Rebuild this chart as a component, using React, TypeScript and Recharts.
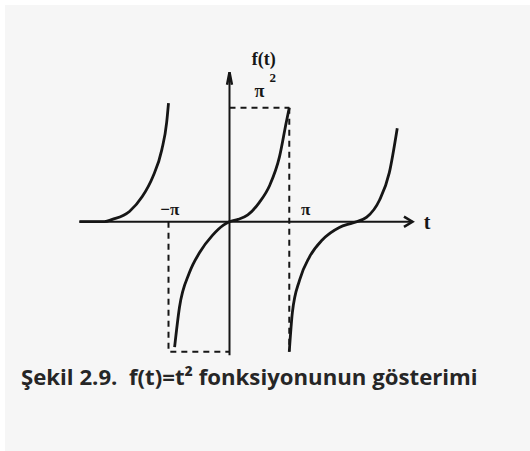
import { LineChart, Line, XAxis, YAxis, ReferenceDot } from 'recharts';

// t in units of π, f(t) in units of π²
const leftPiece = [
  { t: -2.46, v: 0 }, { t: -2.05, v: 0 }, { t: -1.92, v: 0.02 }, { t: -1.64, v: 0.09 },
  { t: -1.43, v: 0.22 }, { t: -1.26, v: 0.39 }, { t: -1.11, v: 0.63 }, { t: -1.03, v: 0.87 },
  { t: -1.0, v: 1.04 },
];
const centerPiece = [
  { t: -0.9, v: -1.1 }, { t: -0.82, v: -0.75 }, { t: -0.66, v: -0.45 }, { t: -0.49, v: -0.27 },
  { t: -0.28, v: -0.12 }, { t: -0.1, v: -0.03 }, { t: 0, v: 0 }, { t: 0.14, v: 0.02 },
  { t: 0.3, v: 0.06 }, { t: 0.49, v: 0.17 }, { t: 0.66, v: 0.32 }, { t: 0.82, v: 0.57 },
  { t: 0.93, v: 0.87 }, { t: 0.98, v: 1.0 },
];
const rightPiece = [
  { t: 0.98, v: -1.14 }, { t: 1.03, v: -0.8 }, { t: 1.15, v: -0.51 }, { t: 1.31, v: -0.31 },
  { t: 1.52, v: -0.16 }, { t: 1.8, v: -0.05 }, { t: 2.02, v: -0.01 }, { t: 2.25, v: 0.04 },
  { t: 2.46, v: 0.19 }, { t: 2.62, v: 0.43 }, { t: 2.75, v: 0.82 },
];

const xAxisLine = [{ t: -2.46, v: 0 }, { t: 3.0, v: 0 }];
const xArrow = [{ t: 2.86, v: 0.045 }, { t: 3.0, v: 0 }, { t: 2.86, v: -0.045 }];
const yAxisLine = [{ t: 0, v: -1.17 }, { t: 0, v: 1.31 }];
const yArrow = [{ t: -0.04, v: 1.2 }, { t: 0, v: 1.31 }, { t: 0.04, v: 1.2 }];

const dashTop = [{ t: 0, v: 1.0 }, { t: 0.98, v: 1.0 }];
const dashRight = [{ t: 0.98, v: 1.0 }, { t: 0.98, v: -1.14 }];
const dashLeft = [{ t: -1.0, v: 0 }, { t: -1.0, v: -1.13 }];
const dashBottom = [{ t: -0.97, v: -1.14 }, { t: 0, v: -1.14 }];

const labels = [
  { t: 0.56, v: 1.41, text: 'f(t)', size: 18 },
  { t: 3.24, v: -0.02, text: 't', size: 20 },
  { t: -0.98, v: 0.09, text: '−π', size: 17 },
  { t: 1.25, v: 0.09, text: 'π', size: 17 },
  { t: 0.49, v: 1.13, text: 'π', size: 18 },
  { t: 0.71, v: 1.25, text: '2', size: 13 },
];

const ink = '#161616';

function TextMark(props: any) {
  const { cx, cy, text, size } = props;
  return (
    <text x={cx} y={cy} textAnchor="middle" dominantBaseline="middle"
      style={{ fontFamily: "'Liberation Serif', 'DejaVu Serif', serif", fontWeight: 700, fontSize: size }}
      fill={ink}>
      {text}
    </text>
  );
}

export default function App() {
  return (
    <div style={{ position: 'fixed', left: 0, top: 0, width: 530, height: 451, background: '#f6f6f6',
      borderTop: '5px solid #fff', borderLeft: '5px solid #fff', boxSizing: 'border-box' }}>
      <div style={{ position: 'absolute', left: -5, top: -5 }}>
        <LineChart width={530} height={451} margin={{ top: 62, right: 87, bottom: 81, left: 77 }}>
          <XAxis type="number" dataKey="t" domain={[-2.5, 3.5]} hide allowDataOverflow />
          <YAxis type="number" dataKey="v" domain={[-1.3, 1.4]} hide allowDataOverflow />
          <Line data={xAxisLine} dataKey="v" stroke={ink} strokeWidth={2} dot={false} isAnimationActive={false} />
          <Line data={xArrow} dataKey="v" stroke={ink} strokeWidth={2.5} dot={false} isAnimationActive={false} />
          <Line data={yAxisLine} dataKey="v" stroke={ink} strokeWidth={2} dot={false} isAnimationActive={false} />
          <Line data={yArrow} dataKey="v" stroke={ink} strokeWidth={2.5} dot={false} isAnimationActive={false} />
          {[dashTop, dashRight, dashLeft, dashBottom].map((d, i) => (
            <Line key={i} data={d} dataKey="v" stroke={ink} strokeWidth={2} strokeDasharray="6 5"
              dot={false} isAnimationActive={false} />
          ))}
          {[leftPiece, centerPiece, rightPiece].map((d, i) => (
            <Line key={'c' + i} data={d} dataKey="v" type="monotone" stroke={ink} strokeWidth={2.8}
              dot={false} isAnimationActive={false} />
          ))}
          {labels.map((l, i) => (
            <ReferenceDot key={'l' + i} x={l.t} y={l.v} r={0} ifOverflow="visible"
              shape={(p: any) => <TextMark {...p} text={l.text} size={l.size} />} />
          ))}
        </LineChart>
      </div>
      <div style={{ position: 'absolute', left: 16, top: 356, fontFamily: "'Open Sans', sans-serif",
        fontWeight: 700, fontSize: 22.2, color: '#262626', whiteSpace: 'nowrap' }}>
        Şekil 2.9.&nbsp; f(t)=t² fonksiyonunun gösterimi
      </div>
    </div>
  );
}
